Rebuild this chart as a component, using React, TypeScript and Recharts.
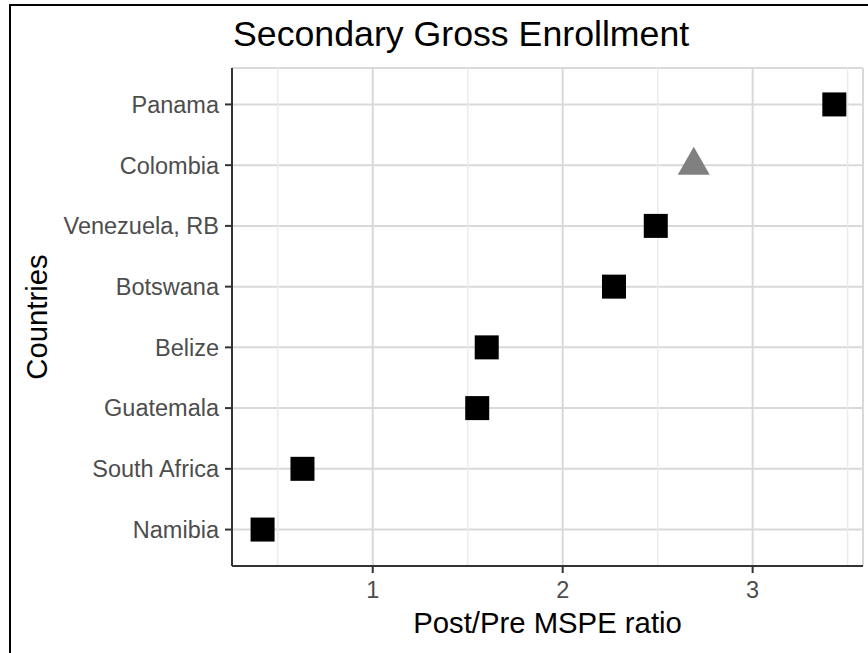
import {
  CartesianGrid,
  Label,
  ReferenceLine,
  Scatter,
  ScatterChart,
  XAxis,
  YAxis,
} from "recharts";

const countries = [
  "Panama",
  "Colombia",
  "Venezuela, RB",
  "Botswana",
  "Belize",
  "Guatemala",
  "South Africa",
  "Namibia",
];
const ratios = [3.43, 2.69, 2.49, 2.27, 1.6, 1.55, 0.63, 0.42];
const treatedCountry = "Colombia";
const xTicks = [1, 2, 3];
const xMinorTicks = [0.5, 1.5, 2.5, 3.5];

// rows are numbered from the bottom so the first country ends up on top
const rows = countries.map((country, i) => ({
  country,
  ratio: ratios[i],
  row: countries.length - i,
}));
const donors = rows.filter((r) => r.country !== treatedCountry);
const treated = rows.filter((r) => r.country === treatedCountry);
const rowTicks = rows.map((r) => r.row).reverse();

const font = '"Liberation Sans", Arial, Helvetica, sans-serif';
const tickStyle = { fill: "#4d4d4d", fontSize: 23.5, fontFamily: font };

const Square = (props: any) => (
  <rect x={props.cx - 12} y={props.cy - 12} width={24} height={24} fill="#000" />
);

// centroid of the triangle sits on the point
const Triangle = (props: any) => {
  const { cx, cy } = props;
  return (
    <polygon
      points={`${cx - 16},${cy + 9.5} ${cx + 16},${cy + 9.5} ${cx},${cy - 18.5}`}
      fill="#808080"
    />
  );
};

const App = () => {
  return (
    <div
      style={{
        position: "absolute",
        left: 0,
        top: 0,
        width: 868,
        height: 653,
        background: "#fff",
        fontFamily: font,
        overflow: "hidden",
      }}
    >
      <div
        style={{
          position: "absolute",
          left: 9,
          top: 4,
          width: 870,
          height: 660,
          borderLeft: "2px solid #000",
          borderTop: "2px solid #000",
        }}
      />
      <div
        style={{
          position: "absolute",
          left: 233,
          top: 17,
          fontSize: 35.7,
          lineHeight: "35px",
          color: "#000",
          whiteSpace: "nowrap",
        }}
      >
        Secondary Gross Enrollment
      </div>
      <ScatterChart
        width={868}
        height={653}
        margin={{ top: 68, right: 5, bottom: 0, left: 0 }}
      >
        {xMinorTicks.map((x) => (
          <ReferenceLine key={x} x={x} stroke="#ebebeb" strokeWidth={1.5} />
        ))}
        <CartesianGrid stroke="#d9d9d9" strokeWidth={2} />
        <XAxis
          type="number"
          dataKey="ratio"
          domain={[0.259, 3.581]}
          ticks={xTicks}
          allowDataOverflow
          height={87}
          tick={tickStyle}
          tickSize={7}
          tickMargin={8}
          axisLine={{ stroke: "#333", strokeWidth: 2 }}
          tickLine={{ stroke: "#333", strokeWidth: 2 }}
        >
          <Label
            value="Post/Pre MSPE ratio"
            position="insideBottom"
            offset={20}
            style={{ fill: "#000", fontSize: 29.3, fontFamily: font }}
          />
        </XAxis>
        <YAxis
          type="number"
          dataKey="row"
          domain={[0.4, 8.6]}
          ticks={rowTicks}
          allowDataOverflow
          width={232}
          tickFormatter={(v: number) => countries[countries.length - v]}
          tick={tickStyle}
          tickSize={7}
          tickMargin={6}
          axisLine={{ stroke: "#333", strokeWidth: 2 }}
          tickLine={{ stroke: "#333", strokeWidth: 2 }}
        >
          <Label
            value="Countries"
            angle={-90}
            position="insideLeft"
            offset={37}
            style={{
              textAnchor: "middle",
              fill: "#000",
              fontSize: 29.3,
              fontFamily: font,
            }}
          />
        </YAxis>
        <Scatter data={donors} shape={Square} isAnimationActive={false} />
        <Scatter data={treated} shape={Triangle} isAnimationActive={false} />
      </ScatterChart>
    </div>
  );
};

export default App;
